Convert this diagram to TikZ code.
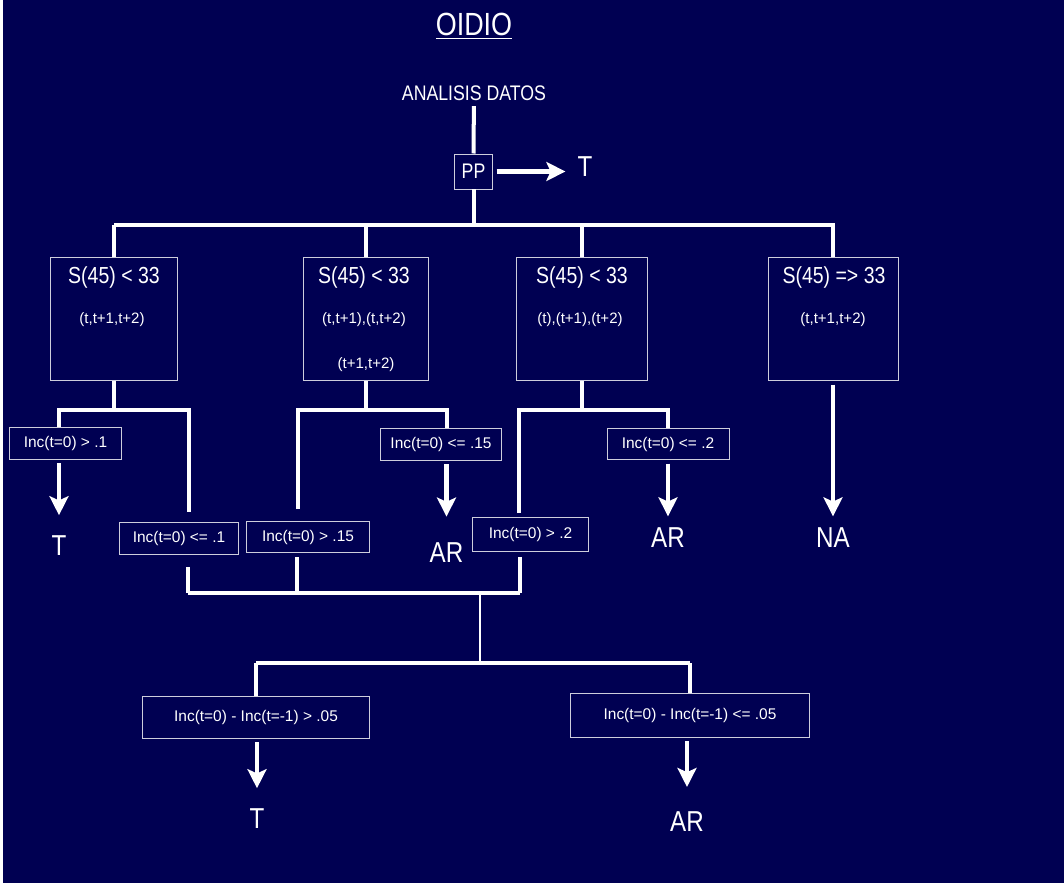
\documentclass[tikz,border=0pt]{standalone}
\usepackage{fontspec}
\setmainfont{Liberation Sans}
\newfontfamily\narrowsf{Liberation Sans}[FakeStretch=0.84]
\usetikzlibrary{arrows.meta}
\definecolor{navy}{RGB}{0,0,82}
\definecolor{rim}{RGB}{205,205,220}

\begin{document}
\begin{tikzpicture}[x=0.025cm,y=-0.025cm,
	wire/.style={white,line width=2.85pt},
	thinwire/.style={white,line width=1.8pt},
	arr/.style={white,line width=3.5pt,-{Stealth[length=13.5pt,width=13.5pt,inset=3pt]},shorten <=2.5pt,shorten >=#1},
	condbox/.style={draw=rim,line width=0.7pt,minimum height=3.08cm,inner sep=0pt},
	incbox/.style={draw=rim,line width=0.7pt,text=white,inner sep=0pt,minimum height=0.78cm,font=\fontsize{11}{13}\selectfont},
	head/.style={text=white,font=\narrowsf\fontsize{16.5}{19}\selectfont},
	sub/.style={text=white,font=\fontsize{10.7}{13}\selectfont},
	result/.style={text=white,inner sep=0pt,anchor=base,font=\narrowsf\fontsize{20.5}{24}\selectfont}]
		\fill[white] (0,0) rectangle (1064,885);
		\fill[navy] (3,0) rectangle (1064,883);
		% heading and first test
		\node[text=white,anchor=base,font=\narrowsf\fontsize{22.8}{26}\selectfont] (title) at (474,36) {\underline{OIDIO}};
		\node[text=white,anchor=base,font=\narrowsf\fontsize{15}{18}\selectfont] (datos) at (474,101) {ANALISIS DATOS};
		\node[draw=rim,line width=0.7pt,minimum width=0.95cm,minimum height=0.875cm,inner sep=0pt,text=white,font=\narrowsf\fontsize{15}{18}\selectfont] (pp) at (473.5,171.5) {PP};
		\node[result] (ppT) at (585,177) {T};
		% S(45) boxes
		\node[condbox,minimum width=3.18cm] (s1) at (114,319) {};
		\node[condbox,minimum width=3.13cm] (s2) at (366,319) {};
		\node[condbox,minimum width=3.25cm] (s3) at (582,319) {};
		\node[condbox,minimum width=3.25cm] (s4) at (833,319) {};
		\node[head] (s1h) at (114,277) {S(45) < 33};
		\node[sub]  (s1a) at (112,320) {(t,t+1,t+2)};
		\node[head] (s2h) at (364,277) {S(45) < 33};
		\node[sub]  (s2a) at (364,320) {(t,t+1),(t,t+2)};
		\node[sub]  (s2b) at (366,365) {(t+1,t+2)};
		\node[head] (s3h) at (582,277) {S(45) < 33};
		\node[sub]  (s3a) at (580,320) {(t),(t+1),(t+2)};
		\node[head] (s4h) at (834,277) {S(45) => 33};
		\node[sub]  (s4a) at (833,320) {(t,t+1,t+2)};
		% Inc boxes
		\node[incbox,minimum width=2.78cm] (a1) at (65.5,443.5) {Inc(t=0) > .1};
		\node[incbox,minimum width=2.95cm] (a2) at (179,538.5) {Inc(t=0) <= .1};
		\node[incbox,minimum width=3.0cm]  (b1) at (441,444.5) {Inc(t=0) <= .15};
		\node[incbox,minimum width=3.05cm] (b2) at (308,537) {Inc(t=0) > .15};
		\node[incbox,minimum width=3.05cm] (c1) at (668,444) {Inc(t=0) <= .2};
		\node[incbox,minimum width=2.88cm,minimum height=0.86cm] (c2) at (530.5,534.5) {Inc(t=0) > .2};
		\node[incbox,minimum width=5.69cm,minimum height=1.03cm] (d1) at (256,717.5) {Inc(t=0) - Inc(t=-1) > .05};
		\node[incbox,minimum width=5.95cm,minimum height=1.08cm] (d2) at (690,715.5) {Inc(t=0) - Inc(t=-1) <= .05};
		% outcomes
		\node[result] (tA) at (59,555) {T};
		\node[result] (tB) at (446.5,562) {AR};
		\node[result] (tC) at (668,547) {AR};
		\node[result] (tN) at (833,547) {NA};
		\node[result] (tD) at (257,828) {T};
		\node[result] (tE) at (687,831) {AR};
		% first split
		\coordinate (bar1) at (474,225);
		\draw[wire] (datos) -- (pp.north);
		\draw[wire] (pp.south) -- (pp.south |- bar1);
		\draw[arr=8.5pt] (pp.east) -- (pp.east -| ppT.west);
		\draw[wire] (s1.north |- bar1) -| (s4.north);
		\foreach \b in {s1,s2,s3} \draw[wire] (\b.north) -- (\b.north |- bar1);
		% under s1
		\coordinate (fork1) at (114,410);
		\coordinate (a2in) at (189,512);
		\draw[wire] (s1.south) -- (fork1);
		\draw[wire] (tA |- a1.north) |- (fork1) -| (a2in);
		\draw[arr=14pt] (tA |- a1.south) -- (tA.north);
		% under s2
		\coordinate (fork2) at (366,410);
		\coordinate (b2in) at (298,509);
		\draw[wire] (s2.south) -- (fork2);
		\draw[wire] (b2in) |- (fork2) -| (tB |- b1.north);
		\draw[arr=18pt] (tB |- b1.south) -- (tB.north);
		% under s3
		\coordinate (fork3) at (582,410);
		\coordinate (c2in) at (519,513);
		\draw[wire] (s3.south) -- (fork3);
		\draw[wire] (c2in) |- (fork3) -| (c1.north);
		\draw[arr=7.5pt] (c1.south) -- (tC.north);
		% under s4
		\draw[arr=7.5pt] (s4.south) -- (tN.north);
		% joining the three remaining branches
		\coordinate (a2out) at (188,567);
		\coordinate (b2out) at (297,557);
		\coordinate (c2out) at (520,557);
		\coordinate (join) at (480,593);
		\coordinate (bar2) at (480,663);
		\foreach \c in {a2out,b2out,c2out} \draw[wire] (\c) -- (\c |- join);
		\draw[wire] (a2out |- join) -- (c2out |- join);
		\draw[thinwire] (join) -- (bar2);
		\draw[wire] (d1.north |- bar2) -- (d2.north |- bar2);
		\foreach \d in {d1,d2} \draw[wire] (\d.north) -- (\d.north |- bar2);
		\draw[arr=14pt] (tD |- d1.south) -- (tD.north);
		\draw[arr=17pt] (tE |- d2.south) -- (tE.north);
	\end{tikzpicture}
\end{document}
